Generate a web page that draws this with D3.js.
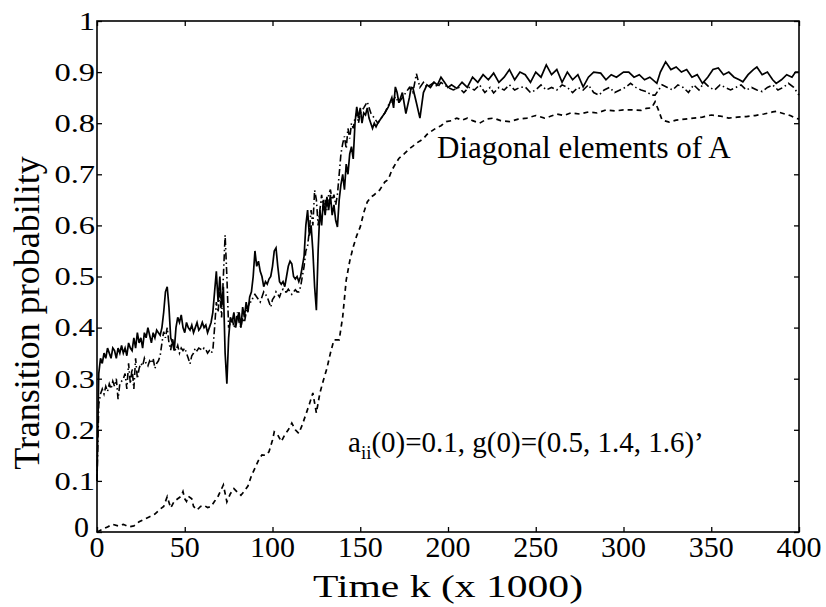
<!DOCTYPE html>
<html>
<head>
<meta charset="utf-8">
<script src="https://cdn.jsdelivr.net/npm/d3@7"></script>
<style>
  body { margin: 0; background: #fff; }
  text { font-family: "Liberation Serif", "Times New Roman", serif; fill: #000; }
</style>
</head>
<body>
<div id="chart"></div>
<script>
// time axis in thousands of steps, probability on y
var xTicks = [0, 50, 100, 150, 200, 250, 300, 350, 400];
var yTicks = [0, 0.1, 0.2, 0.3, 0.4, 0.5, 0.6, 0.7, 0.8, 0.9, 1];
var yTickLabels = ["0", "0.1", "0.2", "0.3", "0.4", "0.5", "0.6", "0.7", "0.8", "0.9", "1"];

// solid line [k, a]
var solidSeries = [
  [0,0.10],[1,0.31],[2,0.34],[3,0.33],[4,0.35],[5,0.34],[6,0.36],[7,0.35],[8,0.34],[9,0.36],
  [10,0.355],[11,0.34],[12,0.36],[13,0.35],[14,0.365],[15,0.35],[16,0.36],[17,0.345],[18,0.37],[19,0.36],
  [20,0.355],[21,0.38],[22,0.36],[23,0.39],[24,0.37],[25,0.38],[26,0.36],[27,0.39],[28,0.38],[29,0.40],
  [30,0.385],[31,0.37],[32,0.39],[33,0.38],[34,0.395],[35,0.39],[36,0.385],[37,0.40],[38,0.43],[39,0.47],
  [40,0.48],[41,0.44],[42,0.38],[43,0.37],[44,0.355],[45,0.40],[46,0.42],[47,0.41],[48,0.425],[49,0.40],
  [50,0.39],[51,0.41],[52,0.40],[53,0.395],[54,0.405],[55,0.39],[56,0.40],[57,0.41],[58,0.395],[59,0.40],
  [60,0.41],[61,0.40],[62,0.405],[63,0.39],[64,0.40],[65,0.41],[66,0.43],[67,0.47],[68,0.51],[69,0.45],
  [70,0.50],[71,0.44],[72,0.48],[73,0.35],[74,0.29],[75,0.38],[76,0.42],[77,0.41],[78,0.43],[79,0.40],
  [80,0.42],[81,0.43],[82,0.40],[83,0.44],[84,0.42],[85,0.45],[86,0.43],[87,0.46],[88,0.47],[89,0.50],
  [90,0.55],[91,0.52],[92,0.53],[93,0.51],[94,0.50],[95,0.48],[96,0.49],[97,0.485],[98,0.495],[99,0.50],
  [100,0.52],[101,0.55],[102,0.556],[103,0.52],[104,0.49],[105,0.485],[106,0.49],[107,0.48],[108,0.50],[109,0.52],
  [110,0.53],[111,0.525],[112,0.50],[113,0.495],[114,0.50],[115,0.49],[116,0.50],[117,0.52],[118,0.54],[119,0.60],
  [120,0.63],[121,0.58],[122,0.60],[123,0.55],[124,0.48],[125,0.434],[126,0.55],[127,0.63],[128,0.60],[129,0.65],
  [130,0.62],[131,0.656],[132,0.63],[133,0.66],[134,0.62],[135,0.64],[136,0.61],[137,0.597],[138,0.65],[139,0.68],
  [140,0.70],[141,0.67],[142,0.72],[143,0.70],[144,0.74],[145,0.754],[146,0.73],[147,0.80],[148,0.832],[149,0.81],
  [150,0.83],[151,0.80],[152,0.82],[153,0.816],[154,0.83],[155,0.81],[156,0.80],[157,0.79],[158,0.80],[159,0.793],
  [160,0.80],[162,0.81],[164,0.82],[166,0.832],[168,0.85],[169,0.83],[170,0.871],[171,0.86],[172,0.84],[174,0.86],
  [176,0.819],[178,0.85],[179,0.87],[180,0.869],[182,0.84],[184,0.81],[186,0.86],[188,0.875],[190,0.87],[192,0.88],
  [194,0.875],[196,0.89],[198,0.88],[200,0.87],[202,0.875],[205,0.868],[208,0.88],[211,0.87],[214,0.89],[217,0.88],
  [220,0.895],[223,0.885],[226,0.898],[229,0.88],[232,0.89],[235,0.905],[238,0.885],[241,0.90],[244,0.895],[247,0.88],
  [250,0.90],[253,0.89],[256,0.914],[259,0.895],[262,0.905],[265,0.88],[268,0.90],[271,0.885],[274,0.895],[277,0.871],
  [280,0.89],[283,0.90],[287,0.898],[290,0.885],[293,0.895],[296,0.89],[300,0.90],[303,0.90],[306,0.89],[309,0.895],
  [312,0.885],[315,0.89],[319,0.878],[321,0.90],[324,0.92],[327,0.905],[330,0.91],[333,0.90],[336,0.905],[339,0.89],
  [342,0.895],[345,0.878],[348,0.89],[351,0.905],[354,0.908],[357,0.895],[360,0.90],[363,0.89],[366,0.885],[368,0.881],
  [371,0.895],[374,0.905],[376,0.91],[379,0.895],[382,0.90],[385,0.885],[387,0.878],[390,0.885],[393,0.895],[396,0.89],
  [398,0.90],[400,0.90]
];

// dash-dot line [k, a]
var dashDotSeries = [
  [0,0.10],[1,0.25],[2,0.27],[3,0.28],[4,0.27],[5,0.285],[6,0.275],[7,0.29],[8,0.28],[9,0.295],
  [10,0.285],[11,0.30],[12,0.26],[13,0.29],[14,0.295],[15,0.30],[16,0.31],[17,0.28],[18,0.33],[19,0.29],
  [20,0.32],[21,0.28],[22,0.34],[23,0.30],[24,0.32],[25,0.33],[26,0.325],[27,0.34],[28,0.33],[29,0.325],
  [30,0.335],[31,0.33],[32,0.34],[33,0.32],[34,0.33],[35,0.335],[36,0.345],[37,0.37],[38,0.392],[39,0.38],
  [40,0.40],[41,0.37],[42,0.356],[43,0.38],[44,0.36],[45,0.355],[46,0.365],[47,0.35],[48,0.36],[49,0.355],
  [50,0.36],[51,0.35],[52,0.34],[53,0.329],[54,0.345],[55,0.35],[56,0.36],[57,0.355],[58,0.36],[59,0.358],
  [60,0.355],[61,0.36],[62,0.357],[63,0.35],[64,0.355],[65,0.35],[66,0.355],[67,0.40],[68,0.45],[69,0.43],
  [70,0.47],[71,0.42],[72,0.50],[73,0.581],[74,0.50],[75,0.40],[76,0.41],[77,0.42],[78,0.40],[79,0.41],
  [80,0.43],[81,0.41],[82,0.40],[83,0.42],[84,0.41],[85,0.43],[86,0.44],[87,0.45],[88,0.45],[89,0.46],
  [90,0.465],[91,0.46],[92,0.455],[93,0.45],[94,0.46],[95,0.47],[96,0.465],[97,0.46],[98,0.45],[99,0.44],
  [100,0.455],[101,0.46],[102,0.47],[103,0.465],[104,0.46],[105,0.47],[106,0.475],[107,0.47],[108,0.47],[109,0.475],
  [110,0.47],[111,0.465],[112,0.47],[113,0.474],[114,0.47],[115,0.47],[116,0.48],[117,0.50],[118,0.52],[119,0.55],
  [120,0.56],[121,0.59],[122,0.63],[123,0.60],[124,0.669],[125,0.65],[126,0.60],[127,0.63],[128,0.66],[129,0.63],
  [130,0.65],[131,0.63],[132,0.66],[133,0.67],[134,0.65],[135,0.66],[136,0.64],[137,0.66],[138,0.70],[139,0.74],
  [140,0.76],[141,0.774],[142,0.75],[143,0.79],[144,0.77],[145,0.80],[146,0.79],[147,0.81],[148,0.82],[149,0.80],
  [150,0.82],[152,0.83],[154,0.842],[156,0.82],[158,0.81],[160,0.80],[162,0.81],[164,0.82],[166,0.835],[168,0.84],
  [170,0.852],[172,0.84],[174,0.85],[176,0.86],[178,0.87],[180,0.86],[182,0.897],[184,0.87],[186,0.88],[188,0.87],
  [190,0.875],[192,0.88],[194,0.87],[196,0.88],[198,0.875],[200,0.87],[203,0.865],[206,0.87],[209,0.86],[212,0.87],
  [215,0.865],[218,0.875],[221,0.86],[224,0.87],[226,0.859],[229,0.87],[232,0.865],[235,0.875],[238,0.865],[241,0.87],
  [244,0.871],[247,0.86],[250,0.865],[253,0.875],[256,0.865],[259,0.87],[262,0.865],[265,0.875],[268,0.87],[271,0.86],
  [274,0.87],[277,0.865],[280,0.875],[283,0.86],[286,0.855],[289,0.865],[292,0.87],[295,0.86],[298,0.865],[301,0.87],
  [304,0.878],[307,0.87],[310,0.865],[313,0.862],[316,0.855],[318,0.855],[320,0.865],[322,0.875],[325,0.87],[328,0.865],
  [331,0.875],[334,0.87],[337,0.86],[340,0.875],[343,0.865],[346,0.88],[349,0.87],[352,0.865],[355,0.875],[358,0.87],
  [361,0.865],[364,0.87],[367,0.875],[370,0.865],[373,0.87],[376,0.865],[379,0.862],[382,0.87],[385,0.875],[388,0.865],
  [391,0.87],[394,0.878],[397,0.87],[399,0.86],[400,0.855]
];

// dashed line [k, a]
var dashedSeries = [
  [0,0.0],[3,0.005],[6,0.01],[9,0.015],[12,0.012],[15,0.015],[18,0.01],[21,0.012],[24,0.02],[27,0.025],
  [30,0.03],[33,0.035],[36,0.045],[38,0.05],[40,0.069],[42,0.047],[44,0.06],[46,0.065],[48,0.07],[49,0.079],
  [50,0.065],[51,0.06],[52,0.07],[54,0.065],[55,0.05],[57,0.043],[59,0.05],[61,0.052],[63,0.048],[65,0.05],
  [67,0.06],[69,0.07],[72,0.092],[74,0.059],[76,0.075],[78,0.085],[80,0.078],[82,0.072],[84,0.08],[86,0.09],
  [88,0.11],[90,0.125],[92,0.14],[94,0.151],[96,0.15],[98,0.157],[100,0.18],[101,0.196],[103,0.19],[105,0.177],
  [107,0.19],[109,0.20],[111,0.213],[113,0.20],[115,0.193],[117,0.21],[119,0.23],[121,0.25],[123,0.272],[125,0.233],
  [127,0.272],[129,0.297],[131,0.32],[133,0.35],[135,0.376],[138,0.376],[140,0.421],[142,0.493],[144,0.53],[146,0.558],
  [148,0.58],[150,0.597],[152,0.625],[154,0.646],[156,0.655],[158,0.66],[161,0.669],[164,0.685],[166,0.69],[168,0.708],
  [170,0.72],[172,0.731],[175,0.74],[178,0.75],[180,0.755],[182,0.761],[184,0.765],[186,0.77],[188,0.778],[190,0.783],
  [193,0.79],[196,0.795],[199,0.803],[202,0.805],[205,0.81],[208,0.806],[211,0.81],[214,0.805],[218,0.80],[222,0.808],
  [226,0.81],[230,0.805],[235,0.803],[240,0.808],[245,0.81],[250,0.815],[255,0.81],[258,0.813],[262,0.818],[266,0.815],
  [270,0.82],[275,0.818],[280,0.822],[285,0.82],[290,0.826],[295,0.824],[300,0.826],[305,0.826],[310,0.825],[313,0.829],
  [316,0.83],[318,0.842],[320,0.825],[322,0.806],[326,0.802],[330,0.806],[335,0.808],[340,0.81],[345,0.812],[350,0.816],
  [355,0.814],[360,0.81],[365,0.812],[370,0.813],[375,0.815],[380,0.818],[385,0.822],[387,0.823],[390,0.82],[395,0.815],
  [398,0.81],[400,0.808]
];

var width = 826, height = 607;
var margin = {left: 97, right: 27, top: 21, bottom: 75};
var w = width - margin.left - margin.right;
var h = height - margin.top - margin.bottom;

var x = d3.scaleLinear().domain([0, 400]).range([0, w]);
var y = d3.scaleLinear().domain([0, 1]).range([h, 0]);

var svg = d3.select("#chart").append("svg")
  .attr("width", width)
  .attr("height", height);

var main = svg.append("g")
  .attr("transform", "translate(" + margin.left + "," + margin.top + ")");

// inward ticks on all four sides
function styleAxis(g) {
  g.select(".domain").remove();
  g.selectAll("line").attr("stroke", "#000").attr("stroke-width", 1.3);
}

main.append("g")
  .attr("transform", "translate(0," + h + ")")
  .call(d3.axisBottom(x).tickValues(xTicks).tickSizeInner(-5).tickSizeOuter(0).tickFormat(""))
  .call(styleAxis);
main.append("g")
  .call(d3.axisTop(x).tickValues(xTicks).tickSizeInner(-5).tickSizeOuter(0).tickFormat(""))
  .call(styleAxis);
main.append("g")
  .call(d3.axisLeft(y).tickValues(yTicks).tickSizeInner(-5).tickSizeOuter(0).tickFormat(""))
  .call(styleAxis);
main.append("g")
  .attr("transform", "translate(" + w + ",0)")
  .call(d3.axisRight(y).tickValues(yTicks).tickSizeInner(-5).tickSizeOuter(0).tickFormat(""))
  .call(styleAxis);

main.append("rect")
  .attr("width", w)
  .attr("height", h)
  .attr("fill", "none")
  .attr("stroke", "#000")
  .attr("stroke-width", 1.6);

// tick labels
main.append("g").selectAll("text")
  .data(xTicks)
  .enter().append("text")
  .attr("x", function(d) { return x(d); })
  .attr("y", h + 25)
  .attr("text-anchor", "middle")
  .style("font-size", "30px")
  .text(function(d) { return d; });

main.append("g").selectAll("text")
  .data(yTicks)
  .enter().append("text")
  .attr("transform", function(d) {
    if (d === 0) return "translate(-8," + (y(d) - 5) + ")";
    return "translate(-2," + y(d) + ") scale(1.25,1)";
  })
  .attr("dy", "0.34em")
  .attr("text-anchor", "end")
  .style("font-size", function(d) { return d === 0 ? "30px" : "26px"; })
  .text(function(d, i) { return yTickLabels[i]; });

// axis titles
svg.append("text")
  .attr("transform", "translate(" + (margin.left + w / 2) + ",597) scale(1.3,1)")
  .attr("text-anchor", "middle")
  .style("font-size", "32px")
  .text("Time k (x 1000)");

svg.append("text")
  .attr("transform", "translate(39,313) rotate(-90)")
  .attr("text-anchor", "middle")
  .style("font-size", "36px")
  .text("Transition probability");

// series
var line = d3.line()
  .x(function(d) { return x(d[0]); })
  .y(function(d) { return y(d[1]); });

var plot = main.append("g");

plot.append("path")
  .datum(dashedSeries)
  .attr("d", line)
  .attr("fill", "none")
  .attr("stroke", "#000")
  .attr("stroke-width", 1.7)
  .attr("stroke-dasharray", "5,4");

plot.append("path")
  .datum(dashDotSeries)
  .attr("d", line)
  .attr("fill", "none")
  .attr("stroke", "#000")
  .attr("stroke-width", 1.6)
  .attr("stroke-dasharray", "7,3,1.5,3");

plot.append("path")
  .datum(solidSeries)
  .attr("d", line)
  .attr("fill", "none")
  .attr("stroke", "#000")
  .attr("stroke-width", 1.7);

// annotations
main.append("text")
  .attr("x", 437 - margin.left)
  .attr("y", 158 - margin.top)
  .style("font-size", "31px")
  .text("Diagonal elements of A");

var note = main.append("text")
  .attr("x", 348 - margin.left)
  .attr("y", 452 - margin.top)
  .style("font-size", "29px");
note.append("tspan").text("a");
note.append("tspan").attr("dy", 7).style("font-size", "19px").text("ii");
note.append("tspan").attr("dy", -7).text("(0)=0.1, g(0)=(0.5, 1.4, 1.6)\u2019");
</script>
</body>
</html>
